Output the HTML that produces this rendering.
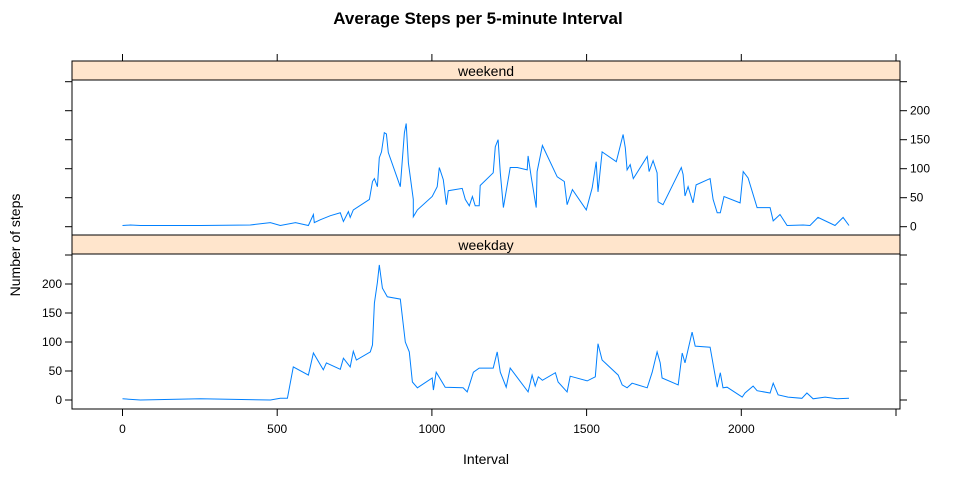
<!DOCTYPE html>
<html><head><meta charset="utf-8"><style>
body{margin:0;background:#fff;width:960px;height:480px;overflow:hidden}
svg{display:block;font-family:"Liberation Sans",Arial,sans-serif}
</style></head><body>
<svg id="chart" width="960" height="480" viewBox="0 0 960 480" xmlns="http://www.w3.org/2000/svg">
<text x="478" y="24" text-anchor="middle" font-size="17" font-weight="bold">Average Steps per 5-minute Interval</text>
<text x="486" y="464" text-anchor="middle" font-size="14">Interval</text>
<text transform="translate(20,245) rotate(-90)" text-anchor="middle" font-size="14">Number of steps</text>
<g id="g"></g>
</svg>
<script>
const xTicks=[0,500,1000,1500,2000,2500];
const xTickLabels=["0","500","1000","1500","2000",""];
const yTicks=[0,50,100,150,200,250];
const yTickLabels=["0","50","100","150","200",""];
const panelNames=["weekend","weekday"];
const weekendX=[0,26,58,252,413,478,510,559,601,617,620,640,672,704,714,730,736,746,798,808,814,824,830,837,846,853,859,898,911,917,924,940,940,953,1001,1017,1024,1037,1047,1053,1098,1108,1121,1131,1140,1153,1156,1198,1205,1214,1221,1231,1253,1276,1308,1311,1321,1337,1340,1357,1405,1428,1437,1454,1499,1518,1531,1537,1550,1596,1618,1625,1631,1641,1651,1696,1702,1715,1728,1731,1747,1806,1812,1818,1828,1844,1854,1899,1909,1922,1932,1944,1996,2006,2022,2051,2093,2103,2125,2148,2200,2222,2248,2303,2329,2348];
const weekendY=[2,3,2,2,3,7,2,7,2,21,7,12,19,24,9,26,16,29,47,78,83,69,119,129,162,160,128,69,162,178,110,47,17,29,52,69,102,81,38,62,66,47,36,52,36,36,71,93,138,150,93,33,102,102,98,122,86,33,95,140,86,78,38,64,29,67,112,60,129,112,159,136,98,107,83,121,95,114,93,43,38,102,90,53,69,41,72,83,47,24,24,52,41,95,84,33,33,10,21,2,3,2,16,2,16,2];
const weekdayX=[0,58,252,478,510,533,552,601,617,649,659,704,714,736,746,756,801,808,814,824,830,840,856,898,914,927,937,953,1001,1005,1014,1043,1101,1114,1134,1153,1198,1211,1221,1240,1253,1311,1324,1334,1344,1357,1399,1408,1437,1447,1502,1528,1537,1550,1602,1615,1631,1647,1696,1712,1728,1738,1744,1796,1809,1818,1841,1851,1899,1922,1932,1941,1954,2003,2012,2038,2051,2093,2103,2119,2151,2196,2212,2232,2271,2310,2348];
const weekdayY=[2,0,2,0,3,3,57,43,81,52,64,53,72,57,84,69,83,95,167,203,233,193,178,174,100,83,31,21,38,17,48,22,21,14,48,55,55,83,48,22,55,14,43,24,40,34,47,31,14,41,33,40,97,69,43,26,21,29,21,48,83,64,38,26,81,64,117,93,91,22,47,21,22,5,12,24,16,12,29,9,5,3,12,2,5,2,3];

const NS="http://www.w3.org/2000/svg";
const g=document.getElementById('g');
const L=72,R=900;
const xs=v=>122.5+v*0.3094;
const panels=[{strip:61,top:80,bot:235,zero:226.7,xs:weekendX,ys:weekendY,labelRight:true},
              {strip:235,top:254,bot:409,zero:400,xs:weekdayX,ys:weekdayY,labelRight:false}];
function mk(tag,attrs,parent){const e=document.createElementNS(NS,tag);for(const k in attrs)e.setAttribute(k,attrs[k]);(parent||g).appendChild(e);return e;}
panels.forEach((p,i)=>{
  const ysc=v=>p.zero-v*0.58;
  const strip=mk('rect',{x:L,y:p.strip,width:R-L,height:p.top-p.strip,fill:'#ffe5cc',stroke:'#000','stroke-width':1});
  
  
  const st=mk('text',{x:(L+R)/2,y:p.top-4,'text-anchor':'middle','font-size':14});
  st.textContent=panelNames[i];
  
  
  const fr=mk('rect',{x:L,y:p.top,width:R-L,height:p.bot-p.top,fill:'none',stroke:'#000','stroke-width':1});
  
  
  yTicks.forEach((t,j)=>{
    const y=ysc(t); if(y<p.top-1) return;
    const tl=mk('line',{x1:L-7,x2:L,y1:y,y2:y,stroke:'#000'});
    
    
    const tr=mk('line',{x1:R,x2:R+7,y1:y,y2:y,stroke:'#000'});
    
    
    const lab=mk('text',{x:p.labelRight?R+10:L-10,y:y+4,'text-anchor':p.labelRight?'start':'end','font-size':12});
    lab.textContent=yTickLabels[j];
    
    
  });
  let d='';
  p.xs.forEach((x,k)=>{d+=(k?'L':'M')+xs(x).toFixed(1)+','+ysc(p.ys[k]).toFixed(1);});
  const ln=mk('path',{d:d,fill:'none',stroke:'#0080ff','stroke-width':1});
  
  
});
xTicks.forEach((t,j)=>{
  const x=xs(t);
  const a=mk('line',{x1:x,x2:x,y1:54,y2:61,stroke:'#000'});
  
  
  const b=mk('line',{x1:x,x2:x,y1:409,y2:416,stroke:'#000'});
  
  
  const lab=mk('text',{x:x,y:433,'text-anchor':'middle','font-size':12});
  lab.textContent=xTickLabels[j];
  
  
});
</script>
</body></html>
